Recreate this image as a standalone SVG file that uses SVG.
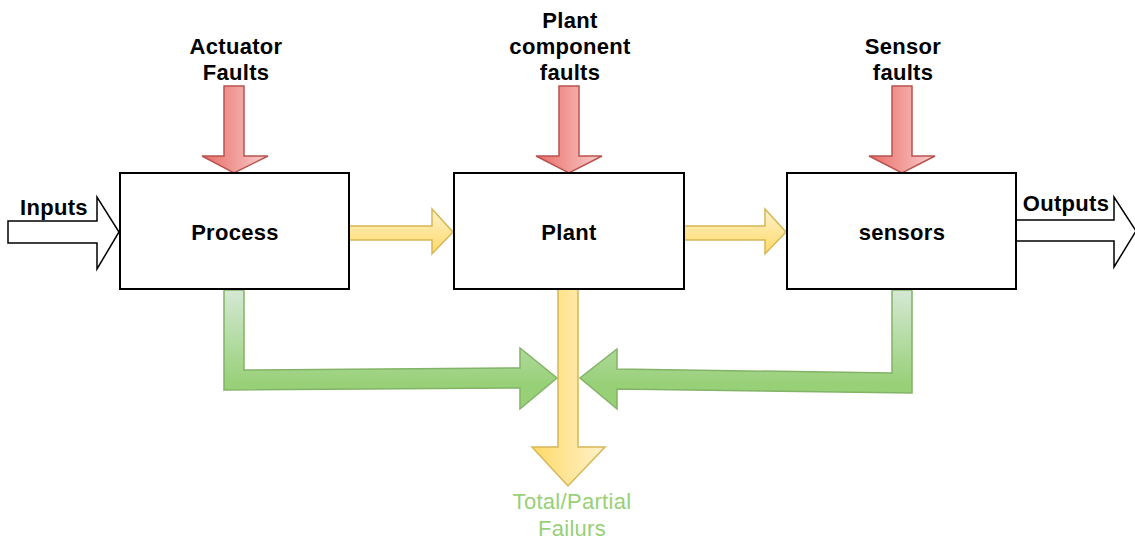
<svg xmlns="http://www.w3.org/2000/svg" width="1135" height="539" viewBox="0 0 1135 539">
<defs>
<linearGradient id="gRed" x1="0" y1="0" x2="1" y2="0"><stop offset="0" stop-color="#ea6b66"/><stop offset="1" stop-color="#f8cecc"/></linearGradient>
<linearGradient id="gYelV" x1="0" y1="0" x2="1" y2="0"><stop offset="0" stop-color="#ffd966"/><stop offset="1" stop-color="#fff2cc"/></linearGradient>
<linearGradient id="gYelH" x1="0" y1="0" x2="0" y2="1"><stop offset="0" stop-color="#fff2cc"/><stop offset="1" stop-color="#ffd966"/></linearGradient>
<linearGradient id="gGreen" x1="0" y1="0" x2="0" y2="1"><stop offset="0" stop-color="#d5e8d4"/><stop offset="0.8" stop-color="#97d077"/><stop offset="1" stop-color="#97d077"/></linearGradient>
</defs>
<style>
.box{fill:#fff;stroke:#000;stroke-width:2}
.lbl{font-family:"Liberation Sans",Arial,sans-serif;font-size:22px;letter-spacing:0.3px;font-weight:bold;fill:#000;text-anchor:middle}
.red{fill:url(#gRed);stroke:#b85450;stroke-width:1.5}
.yelH{fill:url(#gYelH);stroke:#d6b656;stroke-width:1.5}
.yelV{fill:url(#gYelV);stroke:#d6b656;stroke-width:1.5}
.green{fill:url(#gGreen);stroke:#82b366;stroke-width:1.5}
.io{fill:#fff;stroke:#000;stroke-width:1.5}
.fail{font-family:"Liberation Sans",Arial,sans-serif;font-size:22px;letter-spacing:0.3px;fill:#97d077;text-anchor:middle}
</style>
<g id="connectors">
<polygon class="io" points="8,221 97,221 97,197 119,232 97,269 97,243 8,243"/>
<polygon class="io" points="1016,220 1114,220 1114,197 1136,231 1114,267 1114,241 1016,241"/>
<polygon class="red" points="224,86 244,86 244,156 268,156 234,173 202,156 224,156"/>
<polygon class="red" points="559,86 579,86 579,156 602,156 569,173 536,156 559,156"/>
<polygon class="red" points="892,86 912,86 912,156 935,156 902,173 869,156 892,156"/>
<polygon class="yelH" points="349,226 432,226 432,209 453,232 432,254 432,240 349,240"/>
<polygon class="yelH" points="684,226 765,226 765,209 786,232 765,254 765,240 684,240"/>
<polygon class="green" points="224,290 244,290 244,370 520,368 520,348 557,378 520,409 520,388 224,390"/>
<polygon class="green" points="912,290 892,290 892,373 617,369 617,349 580,378 617,409 617,389 912,393"/>
<polygon class="yelV" points="558,289 578,289 578,447 605,447 568,486 532,447 558,447"/>
</g>
<g id="process"><rect class="box" x="120" y="173" width="229" height="116"/><text class="lbl" x="235" y="240">Process</text></g>
<g id="plant"><rect class="box" x="454" y="173" width="230" height="116"/><text class="lbl" x="569" y="240">Plant</text></g>
<g id="sensors"><rect class="box" x="787" y="173" width="229" height="116"/><text class="lbl" x="902" y="240">sensors</text></g>
<g id="actuator-faults"><text class="lbl" x="236" y="54">Actuator</text><text class="lbl" x="236" y="80">Faults</text></g>
<g id="plant-faults"><text class="lbl" x="570" y="28">Plant</text><text class="lbl" x="570" y="54">component</text><text class="lbl" x="570" y="80">faults</text></g>
<g id="sensor-faults"><text class="lbl" x="903" y="54">Sensor</text><text class="lbl" x="903" y="80">faults</text></g>
<g id="inputs"><text class="lbl" x="54" y="215">Inputs</text></g>
<g id="outputs"><text class="lbl" x="1066" y="211">Outputs</text></g>
<g id="failures"><text class="fail" x="572" y="509">Total/Partial</text><text class="fail" x="572" y="536">Failurs</text></g>
</svg>
